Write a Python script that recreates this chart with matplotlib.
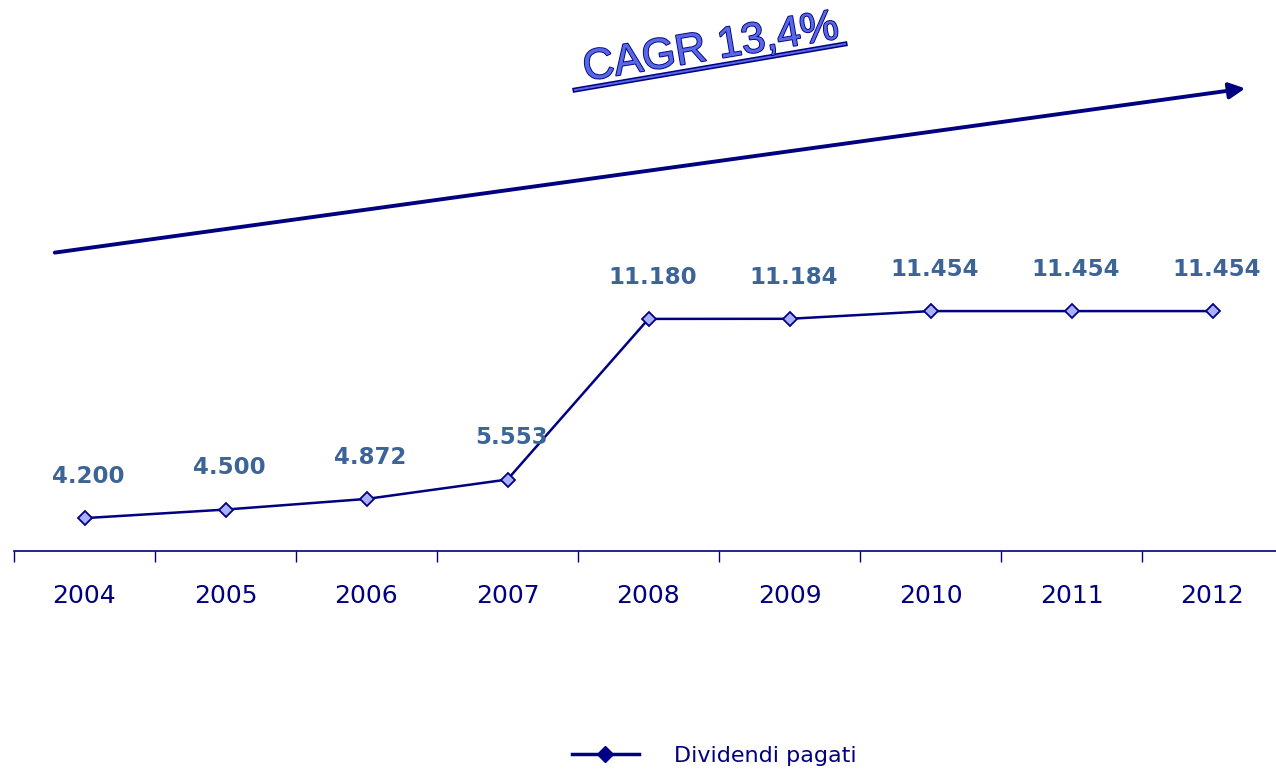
import matplotlib
matplotlib.use("Agg")
import matplotlib.pyplot as plt
import matplotlib.patheffects as pe
from matplotlib.lines import Line2D

# dividendi pagati per anno
anni = ["2004", "2005", "2006", "2007", "2008", "2009", "2010", "2011", "2012"]
dividendi = [4200, 4500, 4872, 5553, 11180, 11184, 11454, 11454, 11454]
cagr_testo = "CAGR 13,4%"

navy = "#000080"
blu_etichette = "#3c6496"
lilla = "#aab0ff"

fig = plt.figure(figsize=(12.76, 7.71), dpi=100)
ax = fig.add_axes([14 / 1276, 220 / 771, 1269 / 1276, 551 / 771])

x = range(len(anni))
ax.plot(x, dividendi, color=navy, lw=1.8, marker="D", ms=7.5,
        mfc=lilla, mec=navy, mew=1.3, zorder=3)

# etichette dei valori in formato italiano
for xi, v in zip(x, dividendi):
    ax.annotate(f"{v:,}".replace(",", "."), (xi, v), xytext=(3, 30),
                textcoords="offset points", ha="center", va="center",
                fontsize=16.5, fontweight="bold", color=blu_etichette)

ax.set_xlim(-0.5, 8.5)
ax.set_ylim(3048, 3048 + 551 / 0.02854)
ax.set_yticks([])
for s in ["left", "right", "top"]:
    ax.spines[s].set_visible(False)
ax.spines["bottom"].set_color(navy)
ax.spines["bottom"].set_linewidth(1.2)

ax.set_xticks(list(x))
ax.set_xticklabels(anni, fontsize=18, color=navy)
ax.tick_params(axis="x", which="major", length=0, pad=24)
ax.set_xticks([i - 0.5 for i in range(len(anni) + 1)], minor=True)
ax.tick_params(axis="x", which="minor", length=8, width=1, color=navy)

# freccia di crescita
fig.add_artist(matplotlib.patches.FancyArrowPatch(
    (52 / 1276, 1 - 253 / 771), (1248 / 1276, 1 - 88 / 771),
    transform=fig.transFigure, arrowstyle="-|>", mutation_scale=24,
    lw=2.8, color=navy))

# scritta CAGR con contorno e sottolineatura
fig.text(0.557, 0.937, cagr_testo, rotation=9.5, ha="center", va="center",
         fontsize=31, family="Liberation Sans", color="#5868e4",
         rotation_mode="anchor",
         path_effects=[pe.withStroke(linewidth=1.3, foreground=navy)])
fig.add_artist(Line2D([575 / 1276, 845 / 1276], [1 - 90 / 771, 1 - 44 / 771],
                      transform=fig.transFigure, color="#5868e4", lw=1.4,
                      path_effects=[pe.Stroke(linewidth=3.6, foreground=navy),
                                    pe.Normal()]))

handle = Line2D([], [], color=navy, lw=2.5, marker="D", ms=8, mfc=navy, mec=navy)
fig.legend([handle], ["Dividendi pagati"], loc="center", bbox_to_anchor=(0.56, 0.02),
           frameon=False, fontsize=16, labelcolor=navy, handlelength=3,
           handletextpad=1.6)

fig.savefig("out.png", dpi=100)
